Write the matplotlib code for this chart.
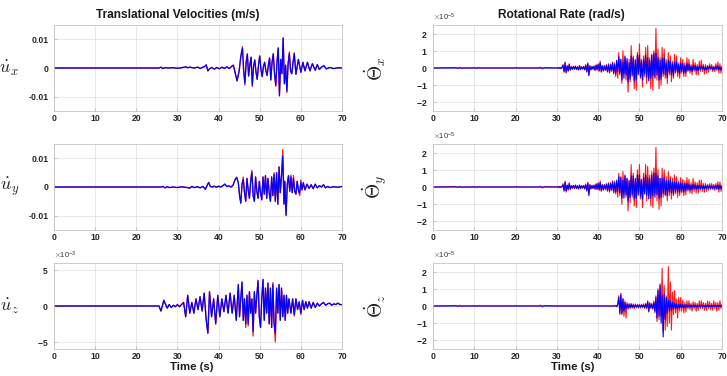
import numpy as np
import matplotlib
matplotlib.use("Agg")
import matplotlib.pyplot as plt
from matplotlib.ticker import ScalarFormatter

plt.rcParams['font.family'] = ['Liberation Sans', 'DejaVu Sans']
plt.rcParams['font.weight'] = 'bold'
plt.rcParams['axes.unicode_minus'] = False
plt.rcParams['mathtext.fontset'] = 'cm'

# ---------------- data ----------------
x_ticks = [0, 10, 20, 30, 40, 50, 60, 70]
x_ticklabels = ['0', '10', '20', '30', '40', '50', '60', '70']
vel_ticks = [-0.01, 0, 0.01]
vel_ticklabels = ['-0.01', '0', '0.01']
uz_ticks = [-5e-3, 0, 5e-3]
rot_ticks = [-2e-5, -1e-5, 0, 1e-5, 2e-5]

titles = ['Translational Velocities (m/s)', 'Rotational Rate (rad/s)']
xlabel = 'Time (s)'
left_ylabels = [r'$\dot{u}_x$', r'$\dot{u}_y$', r'$\dot{u}_z$']
right_ylabels = [r'$\dot{\Theta}_x$', r'$\dot{\Theta}_y$', r'$\dot{\Theta}_z$']

# translational velocity u_x (values in 1e-3 m/s)
t_ux = [0, 25.5, 26.0, 26.4, 27.0, 28.0, 29.0, 30.0, 31.0, 32.0,
        32.5, 33.0, 34.0, 35.0, 35.5, 36.2, 36.6, 37.0, 37.4, 37.8,
        38.3, 39.0, 39.6, 40.2, 40.8, 41.4, 42.0, 42.6, 43.2, 43.6,
        44.0, 44.5, 45.0, 45.4, 45.8,
        46.1, 46.4, 46.7, 47.0, 47.3, 47.6, 47.9, 48.2, 48.5, 48.8,
        49.1, 49.4, 49.7, 50.0, 50.3, 50.6, 50.9, 51.2, 51.5, 51.8,
        52.1, 52.4, 52.7, 53.0, 53.3, 53.6, 53.9, 54.2, 54.5, 54.8,
        55.1, 55.4, 55.7, 56.0, 56.3, 56.6, 56.9, 57.2, 57.5, 57.8,
        58.1, 58.4, 58.8, 59.1, 59.4,
        60.0, 60.5, 61.0, 61.6, 62.2, 62.8, 63.5, 64.0, 64.5, 65.0,
        65.6, 66.2, 67.0, 68.0, 69.0, 70.0]
ux_blue = [0, 0, 0.3, -0.2, 0.1, 0, 0.1, -0.1, 0.1, 0.4,
           0.1, 0.3, 0, 0.3, -0.2, 0.3, 0.5, 1.1, -1.0, -0.3,
           0.2, -0.4, 0.2, -0.3, 0.3, -0.2, 0.4, -0.2, 0.6, 1.0,
           -1.5, -4.4, -1.0, 4.0, 6.8,
           -1.0, -5.2, 2.0, 4.8, -2.8, 1.0, 3.8, -6.0, 0.5, 2.8,
           -1.5, -4.0, 1.0, 4.2, -0.5, -3.0, 0.5, 2.0, -1.0, -2.6,
           1.0, 3.5, -4.2, 2.0, 5.0, -2.0, -6.0, 2.0, 7.0, -9.6,
           3.0, -2.0, 10.4, -5.5, 1.0, -8.0, 1.5, 5.0, -1.0, -2.0,
           2.0, 5.0, -2.2, 0.5, 3.0,
           -1.5, 2.0, -1.0, 2.0, -1.0, 1.5, -0.8, 1.2, -0.5, 0.3,
           0.8, -0.3, 0.2, -0.2, 0.1, 0.0]
ux_red = [0, 0, 0.3, -0.2, 0.1, 0, 0.1, -0.1, 0.1, 0.4,
          0.1, 0.3, 0, 0.3, -0.2, 0.3, 0.5, 1.1, -1.0, -0.3,
          0.2, -0.4, 0.2, -0.3, 0.3, -0.2, 0.4, -0.2, 0.6, 1.0,
          -1.5, -4.6, -1.0, 4.0, 7.5,
          -1.0, -6.0, 2.0, 5.0, -2.8, 1.0, 3.8, -6.5, 0.5, 2.8,
          -1.5, -4.0, 1.0, 4.2, -0.5, -3.0, 0.5, 2.0, -1.0, -2.6,
          1.0, 3.5, -4.2, 2.0, 5.0, -2.0, -6.4, 2.0, 7.0, -9.8,
          3.0, -2.0, 10.6, -5.5, 1.0, -8.6, 1.5, 5.6, -1.0, -2.0,
          2.0, 5.3, -2.2, 0.5, 3.0,
          -1.5, 2.0, -1.0, 2.0, -1.0, 1.5, -0.8, 1.2, -0.5, 0.3,
          0.8, -0.3, 0.2, -0.2, 0.1, 0.0]

# translational velocity u_y (values in 1e-3 m/s)
t_uy = [0, 26.0, 26.5, 27.0, 27.5, 28.0, 29.0, 30.0, 31.0, 32.0,
        33.0, 33.5, 34.0, 35.0, 35.5, 36.2, 36.8, 37.3, 37.6, 38.0,
        38.5, 39.0, 39.5, 40.0, 40.5, 41.0, 41.5, 42.0, 42.5, 43.0,
        43.5, 44.0, 44.4, 44.8,
        45.1, 45.4, 45.7, 46.0, 46.3, 46.6, 46.9, 47.2, 47.5, 47.8,
        48.1, 48.4, 48.7, 49.0, 49.3, 49.6, 49.9, 50.2, 50.5, 50.8,
        51.1, 51.4, 51.7, 52.0, 52.3, 52.6, 52.9, 53.2, 53.5, 53.8,
        54.1, 54.4, 54.7, 55.0, 55.3, 55.6, 55.9, 56.1, 56.4, 56.7,
        57.0, 57.3, 57.6, 57.9, 58.2, 58.5, 58.8, 59.1, 59.4, 59.7,
        60.0,
        60.3, 60.6, 61.0, 61.5, 62.0, 62.5, 63.0, 63.5, 64.0, 64.5,
        65.0, 65.5, 66.0, 66.5, 67.0, 68.0, 69.0, 70.0]
uy_blue = [0, 0, 0.2, -0.3, 0.1, -0.2, 0, -0.2, 0.1, -0.1,
           -0.4, 0.2, -0.2, 0.1, -0.3, 0.2, -0.8, 0.8, 1.6, 0.2,
           0.0, 0.3, -0.1, 0.3, 0.0, 0.4, 1.0, 0.2, 0.4, 0.0,
           0.6, 2.5, 3.4, 1.5,
           -3.0, -5.5, 1.0, 2.5, -2.0, -5.0, 3.0, -1.0, -4.0, 2.0,
           5.2, -3.0, -5.0, 3.5, -1.5, -4.0, 2.0, -2.0, -4.5, 3.5,
           -2.5, 4.0, -4.0, 3.0, -2.0, -5.0, 3.5, -3.0, 4.5, -5.0,
           5.0, -6.0, 7.0, -2.0, 4.0, 10.8, -6.0, 2.0, -9.8, 1.0,
           4.0, -1.5, 3.5, -2.0, 3.0, -1.5, -2.5, 2.0, -1.0, -2.2,
           1.5,
           -1.0, 1.5, -1.0, 1.0, -0.5, 0.8, -0.6, 1.0, -0.3, 0.5,
           0.0, 0.8, -0.3, 0.2, -0.2, 0.1, -0.1, 0.2]
uy_red = [0, 0, 0.2, -0.3, 0.1, -0.2, 0, -0.2, 0.1, -0.1,
          -0.4, 0.2, -0.2, 0.1, -0.3, 0.2, -0.8, 0.8, 1.6, 0.2,
          0.0, 0.3, -0.1, 0.3, 0.0, 0.4, 1.0, 0.2, 0.4, 0.0,
          0.6, 2.5, 3.4, 1.5,
          -3.0, -5.8, 1.0, 3.5, -2.0, -5.0, 3.0, -1.0, -4.0, 2.0,
          5.8, -3.0, -5.0, 3.5, -1.5, -4.0, 2.0, -2.0, -4.5, 3.5,
          -2.5, 4.0, -4.0, 3.0, -2.0, -5.0, 3.5, -3.0, 5.0, -5.0,
          5.0, -6.0, 7.0, -2.0, 4.0, 13.0, -6.0, 2.0, -10.0, 1.0,
          4.0, -1.5, 4.2, -2.0, 4.0, -1.5, -2.5, 2.0, -1.0, -3.0,
          2.5,
          -1.0, 1.5, -1.0, 1.0, -0.5, 0.8, -0.6, 1.0, -0.3, 0.5,
          0.0, 0.8, -0.3, 0.2, -0.2, 0.1, -0.1, 0.2]

# translational velocity u_z (values in 1e-3 m/s)
t_uz = [0, 25.5, 26.0, 26.7, 27.5, 28.0, 28.5, 29.0, 29.5, 30.0,
        30.5, 31.0, 31.5, 32.0, 32.5, 33.0, 33.5, 34.0, 34.5, 35.0,
        35.5, 36.0, 36.5, 37.0, 37.4, 37.8, 38.3, 38.8, 39.3, 39.8,
        40.3, 40.8, 41.3, 41.8, 42.3, 42.8, 43.3, 43.8, 44.3, 44.8,
        45.1, 45.4, 45.7, 46.0, 46.3, 46.6, 46.9, 47.2, 47.5, 47.8,
        48.1, 48.4, 48.7, 49.0, 49.3, 49.6, 49.9, 50.2, 50.5, 50.8,
        51.1, 51.4, 51.7, 52.0, 52.3, 52.6, 52.9, 53.2, 53.5, 53.8,
        54.1, 54.4, 54.7, 55.0, 55.3, 55.6, 55.9, 56.2, 56.5, 56.8,
        57.1,
        57.6, 58.0, 58.4, 58.8, 59.2, 59.6, 60.0, 60.4, 60.8, 61.2,
        61.6, 62.0, 62.5, 63.0, 63.5, 64.0, 64.5, 65.0, 65.5, 66.0,
        66.5, 67.0, 67.5, 68.0, 68.5, 69.0, 69.5, 70.0]
uz_blue = [0, 0, -0.7, 0.8, -0.3, 0.2, -0.2, 0.1, -0.1, 0.2,
           -0.1, 0.2, 0.5, -1.5, 1.5, -1.0, 0.5, -1.0, 1.0, -0.5,
           1.3, -0.7, 1.8, -2.0, -3.8, 2.0, -1.5, 1.0, -2.5, 1.5,
           -1.5, 1.0, -0.8, 1.5, -1.0, 1.8, -1.0, 1.5, -2.0, 3.0,
           -1.5, 1.0, 3.3, -2.0, 1.0, -2.5, 1.5, -2.5, 2.0, -1.0,
           1.0, -3.6, 2.0, -1.0, 1.5, 3.5, -1.5, -3.0, 1.0, 3.7,
           -2.0, 2.5, -1.0, 3.2, -2.5, 2.5, -3.0, 3.0, -2.5, -3.8,
           2.5, -1.0, 3.0, -2.0, 2.5, -1.5, 1.5, -2.0, 1.5, -1.0,
           1.0,
           -1.0, 1.0, -1.2, 1.0, -0.5, 0.6, -1.0, 0.8, -0.5, 0.6,
           -0.3, 0.6, -0.3, 0.5, -0.2, 0.4, 0.0, 0.3, 0.5, 0.1,
           0.3, 0.4, 0.1, 0.3, 0.2, 0.4, 0.2, 0.2]
uz_red = [0, 0, -0.7, 0.8, -0.3, 0.2, -0.2, 0.1, -0.1, 0.2,
          -0.1, 0.2, 0.5, -1.5, 1.5, -1.0, 0.5, -1.0, 1.0, -0.5,
          1.3, -0.7, 1.8, -2.0, -3.8, 2.0, -1.5, 1.0, -2.5, 1.5,
          -1.5, 1.0, -0.8, 1.5, -1.0, 1.8, -1.0, 1.5, -2.0, 3.0,
          -1.5, 1.0, 3.4, -2.0, 1.0, -3.0, 1.5, -2.8, 2.0, -1.0,
          1.0, -4.2, 2.0, -1.0, 1.5, 3.6, -1.5, -3.0, 1.0, 3.7,
          -2.0, 2.5, -1.0, 3.2, -2.5, 2.5, -3.0, 3.3, -2.5, -5.0,
          2.5, -1.0, 3.0, -2.0, 2.5, -1.5, 1.5, -2.0, 1.5, -1.0,
          1.0,
          -1.0, 1.0, -1.4, 1.0, -0.5, 0.6, -1.2, 0.8, -0.5, 0.6,
          -0.3, 0.6, -0.3, 0.5, -0.2, 0.4, 0.0, 0.3, 0.5, 0.1,
          0.3, 0.4, 0.1, 0.3, 0.2, 0.4, 0.2, 0.2]

# rotational rates (values in 1e-5 rad/s), sampled every 0.25 s
rot_start_xy = 30.0
rot_start_z = 44.0
rot_step = 0.25

# low-level red wiggles before the main record (t, value in 1e-5)
t_red_pre = [0, 5.5, 6.0, 6.5, 7.0, 7.5, 9.5, 10.0, 10.5, 11.0, 11.5,
             19.5, 20.0, 20.5, 25.5, 26.0, 26.5, 27.0, 29.75]
red_pre = [0, 0.03, -0.03, 0.04, -0.03, 0, 0, 0.03, -0.03, 0.03, 0,
           0, 0.03, 0, 0, 0.05, -0.06, 0.03, 0]

thx_blue = [0, 0.02, -0.02, 0.02, -0.03, 0.03,
            0.15, -0.2, 0.3, -0.25, 0.1, -0.15, 0.2, -0.1, 0.05, -0.05,
            0.08, -0.06, 0.1, -0.08, 0.05, -0.1, 0.12, -0.08, 0.06, -0.05, 0.08, -0.1,
            0.15, -0.2, 0.25, -0.45, 0.1, -0.1, 0.08, -0.06,
            0.1, -0.12, 0.15, -0.1, 0.2, -0.15, 0.3, -0.2, 0.12, -0.15, 0.1, -0.12,
            0.15, -0.2, 0.18, -0.25, 0.2, -0.15, 0.3, -0.3,
            0.2, -0.35, 0.45, -0.2,
            0.65, -0.3, 0.5, -0.7,
            0.35, -0.6, 0.7, -0.4,
            0.55, -0.8, 0.3, -0.65,
            0.7, -0.4, 0.6, -0.75,
            0.45, -0.7, 0.75, -0.35,
            0.75, -0.5, 0.4, -0.7,
            0.5, -0.35, 0.75, -0.55,
            0.6, -0.75, 0.45, -0.6,
            0.75, -0.45, 0.85, -0.6,
            0.85, -0.4, 0.6, -0.7,
            0.45, -0.65, 0.55, -0.35,
            0.6, -0.4, 0.3, -0.55,
            0.45, -0.25, 0.4, -0.4,
            0.25, -0.45, 0.35, -0.2,
            0.35, -0.25, 0.2, -0.35,
            0.3, -0.2, 0.25, -0.3,
            0.15, -0.25, 0.25, -0.15,
            0.2, -0.15, 0.1, -0.2,
            0.15, -0.1, 0.15, -0.15,
            0.1, -0.15, 0.12, -0.08,
            0.12, -0.08, 0.1, -0.12,
            0.06, -0.1, 0.1, -0.06,
            0.1, -0.06, 0.08, -0.1,
            0.06, -0.08, 0.1, -0.06,
            0.12, -0.1, 0.06, -0.12,
            0.05]
thx_red = [0, 0.03, -0.03, 0.04, -0.04, 0.05,
           0.2, -0.25, 0.35, -0.3, 0.15, -0.2, 0.25, -0.15, 0.1, -0.1,
           0.1, -0.08, 0.12, -0.1, 0.08, -0.12, 0.15, -0.1, 0.08, -0.06, 0.1, -0.12,
           0.2, -0.25, 0.3, -0.35, 0.15, -0.12, 0.1, -0.08,
           0.12, -0.15, 0.2, -0.12, 0.25, -0.2, 0.4, -0.25, 0.15, -0.2, 0.15, -0.15,
           0.2, -0.25, 0.25, -0.3, 0.25, -0.2, 0.35, -0.35,
           0.3, -0.5, 0.2, -0.6,
           0.9, -0.4, 0.5, -0.9,
           1.0, -0.3, 0.6, -0.7,
           0.4, -1.4, 0.5, -0.8,
           1.3, -0.5, 0.7, -1.2,
           0.5, -1.3, 0.9, -0.4,
           1.4, -0.6, 0.5, -1.1,
           0.7, -0.5, 1.2, -0.9,
           1.3, -0.6, 0.6, -1.2,
           0.8, -1.3, 1.0, -0.5,
           2.3, -0.7, 1.1, -1.2,
           0.6, -1.0, 1.2, -0.5,
           1.1, -0.6, 0.5, -0.9,
           0.9, -0.4, 0.7, -0.8,
           0.4, -0.6, 0.8, -0.3,
           0.7, -0.5, 0.3, -0.6,
           0.6, -0.3, 0.5, -0.5,
           0.3, -0.5, 0.6, -0.2,
           0.5, -0.3, 0.2, -0.4,
           0.5, -0.2, 0.3, -0.4,
           0.2, -0.4, 0.4, -0.2,
           0.45, -0.2, 0.2, -0.35,
           0.2, -0.3, 0.15, -0.25,
           0.25, -0.1, 0.2, -0.2,
           0.1, -0.2, 0.25, -0.15,
           0.35, -0.3, 0.25, -0.3,
           0.1]

thy_blue = [0, 0.02, -0.03, 0.02, -0.02, 0.03,
            0.12, -0.2, 0.28, -0.22, 0.1, -0.12, 0.2, -0.12, 0.06, -0.05,
            0.08, -0.07, 0.1, -0.08, 0.06, -0.1, 0.1, -0.08, 0.07, -0.05, 0.08, -0.1,
            0.12, -0.2, 0.22, -0.5, 0.12, -0.1, 0.08, -0.07,
            0.1, -0.1, 0.15, -0.12, 0.2, -0.15, 0.25, -0.2, 0.12, -0.15, 0.12, -0.12,
            0.15, -0.2, 0.2, -0.25, 0.2, -0.18, 0.3, -0.3,
            0.25, -0.3, 0.4, -0.25,
            0.6, -0.35, 0.55, -0.65,
            0.4, -0.65, 0.65, -0.45,
            0.5, -0.8, 0.35, -0.6,
            0.65, -0.45, 0.65, -0.7,
            0.5, -0.65, 0.7, -0.4,
            0.7, -0.55, 0.45, -0.7,
            0.55, -0.4, 0.7, -0.5,
            0.55, -0.7, 0.5, -0.65,
            0.7, -0.5, 0.8, -0.6,
            0.8, -0.45, 0.65, -0.65,
            0.5, -0.6, 0.5, -0.4,
            0.55, -0.45, 0.35, -0.5,
            0.4, -0.3, 0.4, -0.35,
            0.3, -0.4, 0.3, -0.25,
            0.3, -0.3, 0.25, -0.3,
            0.25, -0.25, 0.2, -0.3,
            0.2, -0.2, 0.2, -0.15,
            0.15, -0.2, 0.12, -0.15,
            0.15, -0.12, 0.12, -0.12,
            0.1, -0.12, 0.1, -0.1,
            0.1, -0.1, 0.08, -0.1,
            0.08, -0.08, 0.08, -0.08,
            0.1, -0.08, 0.06, -0.08,
            0.08, -0.08, 0.08, -0.1,
            0.12, -0.12, 0.1, -0.1,
            0.05]
thy_red = [0, 0.03, -0.04, 0.04, -0.03, 0.05,
           0.2, -0.25, 0.35, -0.3, 0.12, -0.2, 0.25, -0.15, 0.1, -0.1,
           0.1, -0.1, 0.12, -0.1, 0.08, -0.12, 0.12, -0.1, 0.08, -0.08, 0.1, -0.12,
           0.18, -0.25, 0.28, -0.4, 0.15, -0.12, 0.1, -0.1,
           0.12, -0.15, 0.2, -0.15, 0.25, -0.2, 0.35, -0.25, 0.15, -0.2, 0.15, -0.15,
           0.2, -0.25, 0.25, -0.3, 0.25, -0.2, 0.35, -0.35,
           0.35, -0.4, 0.25, -0.6,
           0.8, -0.5, 0.6, -1.0,
           0.9, -0.35, 0.7, -0.6,
           0.5, -1.4, 0.4, -0.9,
           1.3, -0.6, 0.8, -1.1,
           0.4, -1.2, 1.0, -0.5,
           1.3, -0.7, 0.4, -1.2,
           0.8, -0.4, 1.3, -0.8,
           1.2, -0.5, 0.7, -1.1,
           0.9, -1.2, 1.1, -0.4,
           2.3, -0.8, 1.0, -1.3,
           0.5, -1.1, 1.1, -0.6,
           1.0, -0.5, 0.6, -0.8,
           0.9, -0.5, 0.6, -0.7,
           0.5, -0.5, 0.7, -0.4,
           0.6, -0.6, 0.35, -0.5,
           0.55, -0.35, 0.45, -0.5,
           0.35, -0.45, 0.55, -0.25,
           0.45, -0.35, 0.25, -0.4,
           0.5, -0.25, 0.3, -0.35,
           0.25, -0.35, 0.4, -0.2,
           0.4, -0.25, 0.2, -0.3,
           0.2, -0.25, 0.15, -0.2,
           0.2, -0.15, 0.2, -0.15,
           0.15, -0.2, 0.2, -0.15,
           0.3, -0.3, 0.3, -0.25,
           0.1]

thz_blue = [0, 0.02, -0.03, 0.1,
            0.5, -0.4, 0.65, -0.45,
            0.4, -0.3, 0.2, -0.15,
            0.1, -0.1, 0.08, -0.1,
            0.1, -0.08, 0.06, -0.08,
            0.06, -0.05, 0.05, -0.06,
            0.05, -0.06, 0.05, -0.05,
            0.06, -0.08, 0.1, -0.1,
            0.25, -0.3, 0.15, -0.1,
            0.1, -0.15, 0.2, -0.3,
            0.5, -0.7, 0.9, -0.6,
            1.2, -1.0, 0.6, -1.8,
            0.7, -0.8, 0.5, -0.4,
            0.35, -0.3, 0.3, -0.25,
            0.2, -0.2, 0.15, -0.15,
            0.12, -0.15, 0.1, -0.12,
            0.1, -0.1, 0.08, -0.1,
            0.08, -0.08, 0.06, -0.08,
            0.06, -0.06, 0.05, -0.06,
            0.05, -0.05, 0.05, -0.05,
            0.05, -0.04, 0.04, -0.05,
            0.04, -0.04, 0.04, -0.04,
            0.04, -0.04, 0.03, -0.04,
            0.03, -0.04, 0.03, -0.03,
            0.03, -0.03, 0.03, -0.03,
            0.03, -0.03, 0.02, -0.03,
            0.02]
thz_red = [0, 0.03, -0.05, 0.15,
           0.6, -0.5, 0.75, -0.5,
           0.45, -0.6, 0.3, -0.7,
           0.2, -0.2, 0.15, -0.15,
           0.15, -0.12, 0.12, -0.15,
           0.12, -0.1, 0.1, -0.12,
           0.1, -0.12, 0.1, -0.1,
           0.12, -0.15, 0.15, -0.15,
           0.3, -0.35, 0.2, -0.15,
           0.15, -0.2, 0.3, -0.4,
           0.6, -0.9, 1.0, -0.8,
           1.3, -0.6, 2.2, -1.5,
           1.2, -1.4, 0.6, -1.2,
           2.3, -1.0, 1.4, -1.4,
           0.8, -0.5, 0.9, -0.4,
           0.4, -0.7, 0.5, -0.3,
           0.5, -0.3, 0.35, -0.4,
           0.2, -0.35, 0.3, -0.15,
           0.3, -0.2, 0.15, -0.3,
           0.25, -0.15, 0.2, -0.3,
           0.15, -0.25, 0.3, -0.15,
           0.3, -0.15, 0.2, -0.25,
           0.15, -0.25, 0.3, -0.15,
           0.25, -0.2, 0.15, -0.25,
           0.3, -0.15, 0.2, -0.3,
           0.2, -0.25, 0.3, -0.15,
           0.1]

RED = '#ff1a1a'
BLUE = '#0000ff'


def rot_series(vals, start, with_pre):
    t = start + rot_step * np.arange(len(vals))
    v = np.asarray(vals, float) * 1e-5
    if with_pre:
        tp = np.asarray(t_red_pre, float)
        vp = np.asarray(red_pre, float) * 1e-5
        keep = tp < start
        return np.concatenate([tp[keep], t]), np.concatenate([vp[keep], v])
    return np.concatenate([[0.0], t]), np.concatenate([[0.0], v])


# ---------------- figure ----------------
W, H = 727, 376
fig = plt.figure(figsize=(W / 100, H / 100), dpi=100)

col_left = [54 / W, 288 / W]
col_right = [433 / W, 289 / W]
row_tops = [25, 144, 263]
row_h = 86


def make_ax(col, row):
    x0, w = col
    top = row_tops[row]
    return fig.add_axes([x0, 1 - (top + row_h) / H, w, row_h / H])


def style(ax):
    ax.set_xlim(0, 70)
    ax.set_xticks(x_ticks)
    ax.set_xticklabels(x_ticklabels)
    ax.grid(True, color='#e4e4e4', lw=0.6)
    ax.set_axisbelow(True)
    for s in ax.spines.values():
        s.set_color('#c4c4c4')
        s.set_linewidth(0.6)
    ax.tick_params(direction='in', length=2.5, width=0.5, color='#b0b0b0',
                   labelsize=6.2, labelcolor='#262626', pad=2.5)
    ax.tick_params(axis='y', pad=4)


left_data = [(t_ux, ux_red, ux_blue), (t_uy, uy_red, uy_blue), (t_uz, uz_red, uz_blue)]
for i, (tt, rv, bv) in enumerate(left_data):
    ax = make_ax(col_left, i)
    ax.plot(tt, np.asarray(rv) * 1e-3, color=RED, lw=0.9)
    ax.plot(tt, np.asarray(bv) * 1e-3, color=BLUE, lw=0.9)
    style(ax)
    if i < 2:
        ax.set_ylim(-0.015, 0.015)
        ax.set_yticks(vel_ticks)
        ax.set_yticklabels(vel_ticklabels)
    else:
        ax.set_ylim(-6e-3, 6e-3)
        ax.set_yticks(uz_ticks)
        fmt = ScalarFormatter(useMathText=True)
        fmt.set_powerlimits((0, 0))
        ax.yaxis.set_major_formatter(fmt)
        ax.yaxis.get_offset_text().set_fontsize(5.5)
        ax.yaxis.get_offset_text().set_fontweight('normal')
        ax.yaxis.get_offset_text().set_color('#333333')
    ax.set_ylabel(left_ylabels[i], fontsize=13, rotation=0, color='#222222',
                  va='center', ha='center')
    ax.yaxis.set_label_coords(-0.155, 0.5)

rot_data = [(thx_red, thx_blue, rot_start_xy), (thy_red, thy_blue, rot_start_xy),
            (thz_red, thz_blue, rot_start_z)]
for i, (rv, bv, st) in enumerate(rot_data):
    ax = make_ax(col_right, i)
    tr, vr = rot_series(rv, st, True)
    tb, vb = rot_series(bv, st, False)
    ax.plot(tr, vr, color=RED, lw=0.8)
    ax.plot(tb, vb, color=BLUE, lw=0.8)
    style(ax)
    ax.set_ylim(-2.5e-5, 2.5e-5)
    ax.set_yticks(rot_ticks)
    fmt = ScalarFormatter(useMathText=True)
    fmt.set_powerlimits((0, 0))
    ax.yaxis.set_major_formatter(fmt)
    ax.yaxis.get_offset_text().set_fontsize(5.5)
    ax.yaxis.get_offset_text().set_fontweight('normal')
    ax.yaxis.get_offset_text().set_color('#333333')
    ax.set_ylabel(right_ylabels[i], fontsize=14, color='#222222',
                  va='center', ha='center')
    ax.yaxis.set_label_coords(-0.2, 0.5)

fig.text(178 / W, 1 - 15 / H, titles[0], ha='center', va='center',
         fontsize=8.6, fontweight='bold', color='#1a1a1a')
fig.text(561 / W, 1 - 15 / H, titles[1], ha='center', va='center',
         fontsize=8.6, fontweight='bold', color='#1a1a1a')
fig.text(192 / W, 1 - 367 / H, xlabel, ha='center', va='center',
         fontsize=8.2, fontweight='bold', color='#1a1a1a')
fig.text(573 / W, 1 - 367 / H, xlabel, ha='center', va='center',
         fontsize=8.2, fontweight='bold', color='#1a1a1a')

fig.savefig('out.png', dpi=100)
